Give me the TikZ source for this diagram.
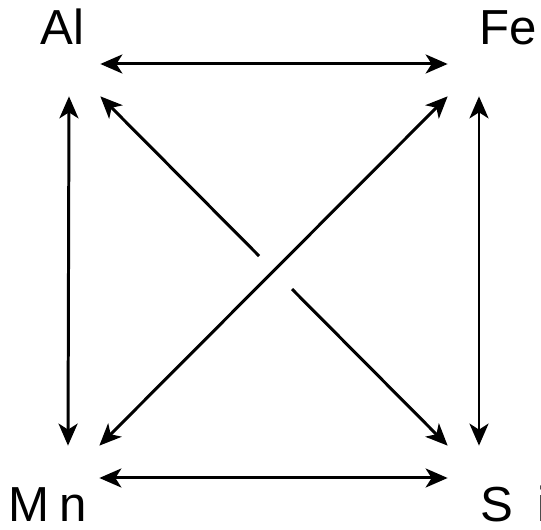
\documentclass[tikz,border=0pt]{standalone}
\usepackage{fontspec}
\setmainfont{Liberation Sans}
\usetikzlibrary{arrows.meta}

\begin{document}
\begin{tikzpicture}[
  elem/.style={anchor=base west, inner sep=0pt, font=\fontsize{28}{30}\selectfont},
  corner/.style={inner sep=0pt, minimum width=1.24cm, minimum height=1.28cm},
  tip/.style={Stealth[length=0.44cm, width=0.38cm, inset=0.12cm]},
  link/.style={line width=1.7pt, {Stealth[length=0.44cm, width=0.38cm, inset=0.12cm]}-{Stealth[length=0.44cm, width=0.38cm, inset=0.12cm]}},
  half/.style={line width=1.7pt, -{Stealth[length=0.44cm, width=0.38cm, inset=0.12cm]}}
]
\useasboundingbox (0,0) rectangle (10.82,10.6);

% ── Element labels ──
\node[elem] (Al) at (0.80, 9.70) {Al};
\node[elem] (Fe) at (9.58, 9.70) {Fe};
\node[elem] (Mn) at (0.16, 0.16) {M\hspace{0.2em}n};
\node[elem] (Si) at (9.60, 0.17) {S\hspace{0.5em}i};

% ── Corner anchors for the arrows ──
\node[corner] (al) at (1.38, 9.32) {};
\node[corner] (fe) at (9.58, 9.32) {};
\node[corner] (mn) at (1.36, 1.04) {};
\node[corner] (si) at (9.58, 1.04) {};

% ── Sides ──
\draw[link] (al.east) -- (fe.west);
\draw[link] (mn.east) -- (si.west);
\draw[link] (al.south) -- (mn.north);
\draw[link] (fe.south) -- (si.north);

% ── Diagonals (Al--Si passes under Mn--Fe) ──
\draw[link] (mn.north east) -- (fe.south west);
\path (al.south east) -- coordinate[pos=0.457] (cutA)
  coordinate[pos=0.552] (cutB) (si.north west);
\draw[half] (cutA) -- (al.south east);
\draw[half] (cutB) -- (si.north west);

\end{tikzpicture}
\end{document}
